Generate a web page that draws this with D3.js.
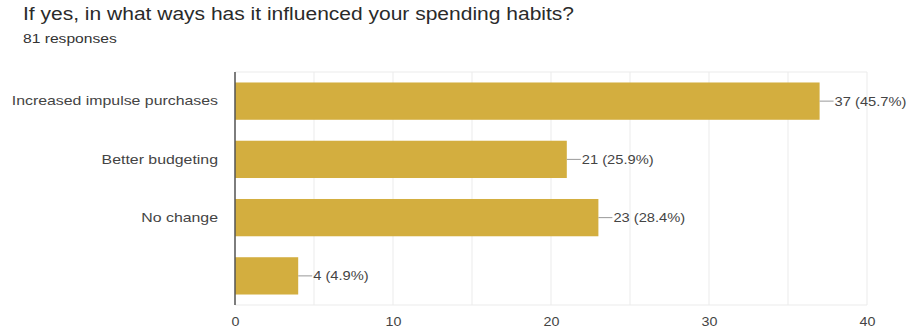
<!DOCTYPE html>
<html><head><meta charset="utf-8">
<script src="https://cdn.jsdelivr.net/npm/d3@7"></script>
<style>body{margin:0;background:#fff;}svg{display:block;font-family:"Liberation Sans",Arial,sans-serif;}</style>
</head><body>
<script>
const title = "If yes, in what ways has it influenced your spending habits?";
const subtitle = "81 responses";
const categories = ["Increased impulse purchases", "Better budgeting", "No change", ""];
const values = [37, 21, 23, 4];
const labels = ["37 (45.7%)", "21 (25.9%)", "23 (28.4%)", "4 (4.9%)"];
const ticks = [0, 10, 20, 30, 40];
const gridTicks = [0, 5, 10, 15, 20, 25, 30, 35, 40];

const W = 914, H = 332;
const m = {left: 235, right: 47, top: 72, bottom: 27};
const svg = d3.select("body").append("svg").attr("width", W).attr("height", H);

// the reference text is slightly wider than the installed fonts; stretch to match
function stretch(sel, k) {
  sel.each(function() {
    const n = this.getComputedTextLength();
    if (n > 0) d3.select(this).attr("textLength", n * k).attr("lengthAdjust", "spacingAndGlyphs");
  });
}

stretch(svg.append("text").attr("x", 23).attr("y", 20).attr("font-size", 17.5).attr("fill", "#2a2a2a").text(title), 1.2);
stretch(svg.append("text").attr("x", 23).attr("y", 43).attr("font-size", 12.5).attr("fill", "#333").text(subtitle), 1.25);

const x = d3.scaleLinear().domain([0, 40]).range([m.left, W - m.right]);
const y = d3.scaleBand().domain(categories.map((c, i) => i)).range([m.top, H - m.bottom]).paddingInner(0.36).paddingOuter(0.18);

const g = svg.append("g");
g.selectAll("line.grid").data(gridTicks).join("line")
  .attr("x1", d => x(d)).attr("x2", d => x(d))
  .attr("y1", m.top).attr("y2", H - m.bottom)
  .attr("stroke", "#ebebeb").attr("stroke-width", 1);
g.append("line").attr("x1", m.left).attr("x2", W - m.right).attr("y1", m.top).attr("y2", m.top).attr("stroke", "#ebebeb");
g.append("line").attr("x1", m.left).attr("x2", W - m.right).attr("y1", H - m.bottom).attr("y2", H - m.bottom).attr("stroke", "#ebebeb");

g.selectAll("rect.bar").data(values).join("rect")
  .attr("x", x(0)).attr("y", (d, i) => y(i))
  .attr("width", d => x(d) - x(0)).attr("height", y.bandwidth())
  .attr("fill", "#D3AE3F");

g.selectAll("line.lead").data(values).join("line")
  .attr("x1", d => x(d)).attr("x2", d => x(d) + 14)
  .attr("y1", (d, i) => y(i) + y.bandwidth() / 2).attr("y2", (d, i) => y(i) + y.bandwidth() / 2)
  .attr("stroke", "#999").attr("stroke-width", 1);

stretch(g.selectAll("text.val").data(values).join("text")
  .attr("x", d => x(d) + 15).attr("y", (d, i) => y(i) + y.bandwidth() / 2)
  .attr("dy", "0.35em").attr("font-size", 13).attr("fill", "#444")
  .text((d, i) => labels[i]), 1.13);

const yAxis = d3.axisLeft(y).tickSize(0).tickPadding(17).tickFormat(i => categories[i]);
const ya = svg.append("g").attr("transform", `translate(${m.left},0)`).call(yAxis);
ya.select(".domain").remove();
stretch(ya.selectAll("text").attr("font-size", 13).attr("fill", "#444").attr("font-family", "'Liberation Sans',Arial,sans-serif"), 1.22);

svg.append("line").attr("x1", x(0)).attr("x2", x(0)).attr("y1", m.top).attr("y2", H - m.bottom)
  .attr("stroke", "#555").attr("stroke-width", 1.5);

const xAxis = d3.axisBottom(x).tickValues(ticks).tickSize(0).tickPadding(12);
const xa = svg.append("g").attr("transform", `translate(0,${H - m.bottom})`).call(xAxis);
xa.select(".domain").remove();
stretch(xa.selectAll("text").attr("font-size", 13).attr("fill", "#444").attr("font-family", "'Liberation Sans',Arial,sans-serif"), 1.1);
</script>
</body></html>
